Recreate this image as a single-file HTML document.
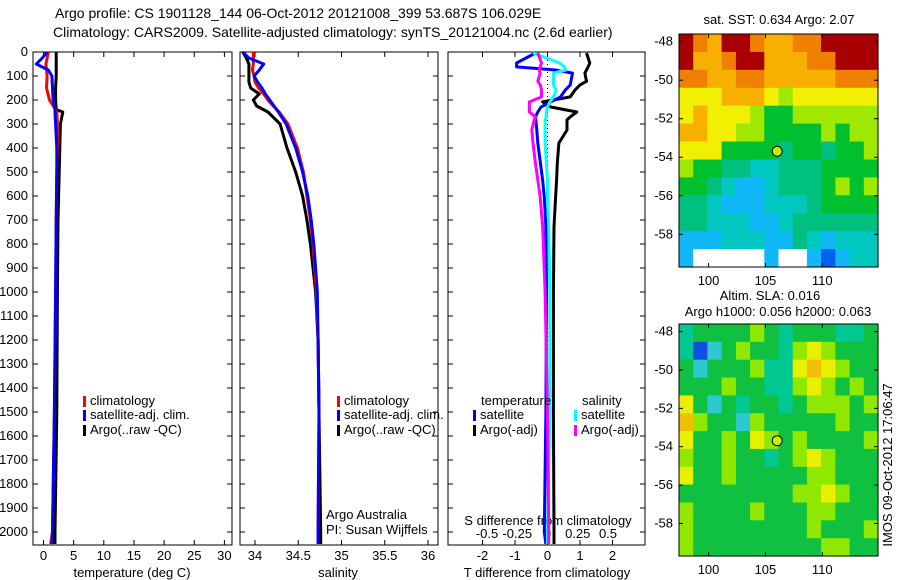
<!DOCTYPE html>
<html><head><meta charset="utf-8"><style>
html,body{margin:0;padding:0;background:#fff;}
svg{display:block;font-family:"Liberation Sans",sans-serif;}
</style></head><body>
<svg id="fig" width="900" height="580" viewBox="0 0 900 580" xmlns="http://www.w3.org/2000/svg">
<text x="55" y="18" font-size="14">Argo profile: CS 1901128_144 06-Oct-2012 20121008_399 53.687S 106.029E</text>
<text x="53" y="37" font-size="14">Climatology: CARS2009. Satellite-adjusted climatology: synTS_20121004.nc (2.6d earlier)</text>
<g id="g"></g>
</svg>
<script>
// ---- data ----
const tDepth = [0,25,50,75,100,150,200,240,250,300,400,500,700,1000,1500,2000,2050];
const tClim  = [0.8,0.6,0.4,0.5,0.6,0.5,1.0,2.0,2.2,2.3,2.3,2.2,2.1,2.0,1.8,1.5,1.2];
const tSat   = [0.6,-0.2,-1.2,0.8,1.4,1.5,1.6,1.9,1.9,2.0,2.2,2.2,2.1,2.0,1.8,1.5,1.4];
const tArgo  = [2.1,2.1,2.1,2.1,2.1,2.0,2.0,2.1,3.2,2.8,2.7,2.6,2.4,2.3,2.2,1.9,1.9];
const sDepth = [0,25,50,75,100,125,150,175,200,225,250,300,400,500,600,700,800,900,1000,1200,1500,2000,2050];
const sClim  = [33.98,33.98,33.98,33.97,33.99,34.0,34.04,34.10,34.15,34.21,34.28,34.38,34.49,34.56,34.60,34.64,34.67,34.69,34.71,34.73,34.74,34.73,34.73];
const sSat   = [33.86,33.93,34.1,34.05,33.99,34.03,34.08,34.12,34.17,34.22,34.27,34.36,34.47,34.55,34.61,34.65,34.68,34.70,34.72,34.73,34.74,34.73,34.73];
const sArgo  = [33.86,33.9,33.93,33.93,33.93,33.93,33.95,34.05,33.98,34.02,34.15,34.29,34.37,34.47,34.55,34.60,34.64,34.67,34.70,34.73,34.74,34.76,34.76];
const dDepth = [4,46,62,75,88,122,137,158,187,208,229,250,270,283,325,379,462,533,604,729,1000,1500,2000,2050];
const dTSat  = [-0.37,-0.95,-0.95,0.25,0.77,0.72,0.7,0.55,0.4,0.1,-0.2,-0.3,-0.37,-0.36,-0.33,-0.3,-0.22,-0.15,-0.1,-0.05,-0.03,-0.05,-0.1,-0.05];
const dTArgo = [1.2,1.3,1.25,1.2,1.15,1.2,1.0,0.85,0.7,-0.15,0.1,0.9,0.7,0.6,0.6,0.35,0.3,0.28,0.25,0.2,0.18,0.18,0.2,0.2];
const dSSat  = [-0.12,0.1,0.14,0.15,0.05,0.05,0.05,0.07,0.05,0.02,0.0,-0.01,-0.01,-0.02,-0.02,-0.02,-0.01,0.0,0.0,0.01,0.02,0.02,0.0,0.0];
const dSArgo = [-0.08,-0.05,-0.06,-0.07,-0.06,-0.08,-0.06,-0.05,-0.05,-0.15,-0.15,-0.15,-0.1,-0.11,-0.13,-0.12,-0.1,-0.08,-0.06,-0.04,-0.02,0.0,0.01,0.01];
const depthTicks = [0,100,200,300,400,500,600,700,800,900,1000,1100,1200,1300,1400,1500,1600,1700,1800,1900,2000];
const tTicks = [0,5,10,15,20,25,30];
const sTicks = [34,34.5,35,35.5,36];
const dtTicks = [-2,-1,0,1,2];
const dsTicks = [-0.5,-0.25,0,0.25,0.5];
const dsTickLabels = ["-0.5","-0.25","0","0.25","0.5"];
const latTicks = [-48,-50,-52,-54,-56,-58];
const lonTicks = [100,105,110];
const sstGrid = [
[9,8,7,9,9,8,7,7,8,8,9,9,9,9],
[9,7,7,8,9,9,7,7,7,8,8,9,9,9],
[8,8,7,7,8,8,7,7,7,7,7,8,8,8],
[6,6,6,7,7,7,6,5,6,6,6,6,6,6],
[6,7,6,6,6,5,4,4,5,5,5,5,5,5],
[7,7,6,6,5,5,4,4,4,4,5,4,5,5],
[6,6,6,4,4,4,4,3,4,4,3,4,4,5],
[5,4,4,3,3,2,2,3,3,3,4,4,4,4],
[4,4,3,2,1,1,2,3,3,3,4,5,4,5],
[3,3,2,1,1,1,2,2,2,3,4,4,4,4],
[3,3,2,2,2,1,1,2,3,3,3,3,3,3],
[1,1,1,2,2,2,1,1,3,2,1,2,2,2],
[1,-1,-1,-1,-1,-1,1,-1,-1,1,0,1,2,2]];
const slaGrid = [
[3,4,4,4,4,5,4,3,4,4,4,3,3,4],
[3,0,2,4,5,4,4,3,5,6,5,4,4,4],
[4,2,4,4,4,5,3,3,6,7,6,5,4,4],
[4,4,4,5,4,4,3,3,5,6,5,4,5,4],
[6,4,2,4,3,4,4,3,4,5,5,5,4,5],
[7,5,4,4,2,5,4,4,4,4,4,5,4,4],
[6,4,4,5,4,6,5,4,5,4,4,4,4,5],
[5,4,4,5,4,4,3,4,5,6,5,4,4,4],
[6,4,4,5,4,4,4,4,4,5,5,4,4,4],
[4,4,4,4,4,4,4,4,5,5,6,5,4,4],
[5,4,4,4,4,5,4,4,4,5,5,4,4,4],
[5,4,4,4,4,4,4,4,4,5,4,4,4,5],
[5,4,4,4,4,4,4,4,4,4,5,5,4,4]];
const argoLon = 106.03, argoLat = -53.69;

// ---- drawing ----
const NS="http://www.w3.org/2000/svg", G=document.getElementById('g');
function mk(tag,attrs,parent){const e=document.createElementNS(NS,tag);for(const k in attrs)e.setAttribute(k,attrs[k]);(parent||G).appendChild(e);return e;}
function txt(s,x,y,anchor,size,parent){const t=mk('text',{x:x,y:y,'text-anchor':anchor||'start','font-size':size||13},parent);t.textContent=s;return t;}
const TOP=52, BOT=545;
const yD = d => TOP + d*0.24;
const xT = v => 43.5 + v*6.03;
const xS = v => 255 + (v-34)*86.5;
const xDT = v => 547.5 + v*32.5;
const xDS = v => 547.5 + v*121;
const panels=[[33,232],[240,438],[448,645]];
panels.forEach((p,i)=>{
  const r=mk('rect',{x:p[0],y:TOP,width:p[1]-p[0],height:BOT-TOP,fill:'none',stroke:'#000','stroke-width':1});
  
  
  depthTicks.forEach(d=>{mk('line',{x1:p[0],x2:p[0]+5,y1:yD(d),y2:yD(d),stroke:'#000'});mk('line',{x1:p[1]-5,x2:p[1],y1:yD(d),y2:yD(d),stroke:'#000'});});
});
depthTicks.forEach(d=>{const t=txt(String(d),28,yD(d)+4,'end',13);
  
  });
function xticks(ticks,fx,labels,ylab){ticks.forEach((v,i)=>{const x=fx(v);
  mk('line',{x1:x,x2:x,y1:BOT,y2:BOT-5,stroke:'#000'});mk('line',{x1:x,x2:x,y1:TOP,y2:TOP+5,stroke:'#000'});
  const t=txt(labels?labels[i]:String(v),x,ylab,'middle',13);
  
  });}
xticks(tTicks,xT,null,560);
xticks(sTicks,xS,null,560);
xticks(dtTicks,xDT,null,560);
dsTicks.forEach((v,i)=>{const t=txt(dsTickLabels[i],xDS(v),538,'middle',13);
  
  });
let t;
t=txt('temperature (deg C)',132,577,'middle',13);
t=txt('salinity',338,577,'middle',13);
t=txt('T difference from climatology',547,577,'middle',13);
t=txt('S difference from climatology',548,525,'middle',13);
t=txt('Argo Australia',326,519,'start',13);
t=txt('PI: Susan Wijffels',326,534,'start',13);
const zl=mk('line',{x1:xDT(0),x2:xDT(0),y1:TOP,y2:BOT,stroke:'#000','stroke-dasharray':'1,3'});


function line(xs,ds,fx,col,name){const pts=xs.map((v,i)=>fx(v).toFixed(1)+','+yD(ds[i]).toFixed(1)).join(' ');
  const l=mk('polyline',{points:pts,fill:'none',stroke:col,'stroke-width':3,'stroke-linejoin':'round'});
  
  }
line(tArgo,tDepth,xT,'#000','temp-argo-line');
line(tClim,tDepth,xT,'#f00','temp-climatology-line');
line(tSat,tDepth,xT,'#00f','temp-satellite-line');
line(sArgo,sDepth,xS,'#000','sal-argo-line');
line(sClim,sDepth,xS,'#f00','sal-climatology-line');
line(sSat,sDepth,xS,'#00f','sal-satellite-line');
line(dTArgo,dDepth,xDT,'#000','tdiff-argo-line');
line(dTSat,dDepth,xDT,'#00f','tdiff-satellite-line');
line(dSSat,dDepth,xDS,'#0ff','sdiff-satellite-line');
line(dSArgo,dDepth,xDS,'#f0f','sdiff-argo-line');
function leg(x,y,col,label){mk('rect',{x:x,y:y-9,width:3,height:11,fill:col});const t=txt(label,x+7,y,'start',13);
  
  }
leg(83,405,'#f00','climatology');leg(83,419,'#00f','satellite-adj. clim.');leg(83,434,'#000','Argo(..raw -QC)');
leg(337,405,'#f00','climatology');leg(337,419,'#00f','satellite-adj. clim.');leg(337,434,'#000','Argo(..raw -QC)');
t=txt('temperature',481,405,'start',13);
t=txt('salinity',582,405,'start',13);
leg(473,419,'#00f','satellite');leg(473,434,'#000','Argo(-adj)');
leg(574,419,'#0ff','satellite');leg(574,434,'#f0f','Argo(-adj)');
const cmap={'-1':'#ffffff',0:'#0060f0',1:'#10b8f8',2:'#00c8c0',3:'#00c080',4:'#00c030',5:'#a0e800',6:'#f0f000',7:'#f8b000',8:'#f08000',9:'#a80000'};
const cmapSla={0:'#1050e0',2:'#30c8d0',3:'#00c890',4:'#10c040',5:'#90e800',6:'#e8f000',7:'#f0c000'};
const LON0=97.4, LON1=114.9, LAT0=-47.6, LAT1=-59.7;
function map(y0,y1,grid,cm,name){
  const x0=679,x1=878;
  const fx=lon=>x0+(lon-LON0)/(LON1-LON0)*(x1-x0);
  const fy=lat=>y0+(lat-LAT0)/(LAT1-LAT0)*(y1-y0);
  const cols=grid[0].length, rows=grid.length;
  const dlon=(LON1-LON0)/cols, dlat=(LAT1-LAT0)/rows;
  grid.forEach((row,r)=>row.forEach((v,c)=>{
    const xa=fx(LON0+c*dlon), xb=fx(LON0+(c+1)*dlon), ya=fy(LAT0+r*dlat), yb=fy(LAT0+(r+1)*dlat);
    const cell=mk('rect',{x:xa.toFixed(1),y:ya.toFixed(1),width:(xb-xa+0.6).toFixed(1),height:(yb-ya+0.6).toFixed(1),fill:cm[v]||'#10c040'});
    
    
  }));
  const fr=mk('rect',{x:x0,y:y0,width:x1-x0,height:y1-y0,fill:'none',stroke:'#000'});
  
  
  latTicks.forEach(l=>{const y=fy(l);mk('line',{x1:x0,x2:x0+4,y1:y,y2:y,stroke:'#000'});mk('line',{x1:x1-4,x2:x1,y1:y,y2:y,stroke:'#000'});
    const t=txt(String(l),673,y+4,'end',13);
    
    });
  lonTicks.forEach(l=>{const x=fx(l);mk('line',{x1:x,x2:x,y1:y1,y2:y1-4,stroke:'#000'});mk('line',{x1:x,x2:x,y1:y0,y2:y0+4,stroke:'#000'});
    const t=txt(String(l),x,y1+18,'middle',13);
    
    });
  const dot=mk('circle',{cx:fx(argoLon),cy:fy(argoLat),r:5,fill:'#c0f000',stroke:'#000','stroke-width':1});
  
  
}
map(34,267,sstGrid,cmap,'sst-map');
map(324,556,slaGrid,cmapSla,'sla-map');
t=txt('sat. SST: 0.634 Argo: 2.07',779,24,'middle',13);
t=txt('Altim. SLA: 0.016',770,300,'middle',13);
t=txt('Argo h1000: 0.056 h2000: 0.063',778,316,'middle',13);
t=txt('IMOS 09-Oct-2012 17:06:47',0,0,'middle',13);t.setAttribute('transform','translate(892,465) rotate(-90)');

</script>
</body></html>
